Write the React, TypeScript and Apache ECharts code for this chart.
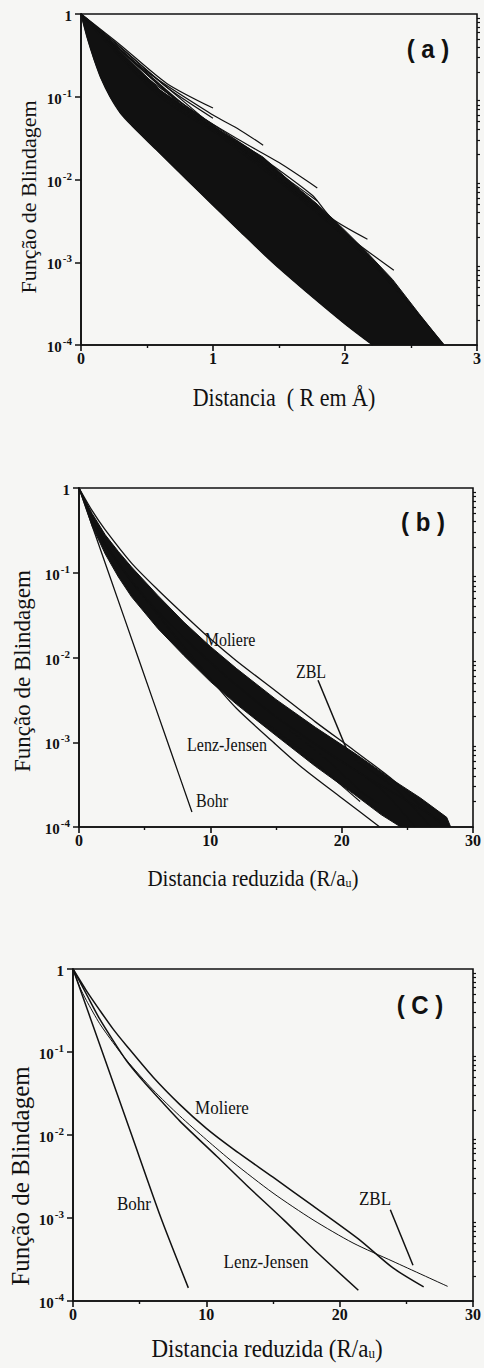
import React, { useEffect, useRef } from "react";
import * as echarts from "echarts";

const W = 484;
const H = 1368;
const INK = "#111111";
const SERIF = "Liberation Serif";
const SANS = "Liberation Sans";

// ---------- Panel (a): screening functions vs distance (Å) ----------
const xTicksA = [0, 1, 2, 3];
const bandLowerA: number[][] = [
  [0, 1], [0.05, 0.5], [0.1, 0.28], [0.15, 0.17], [0.22, 0.1], [0.3, 0.063], [0.39, 0.044],
  [0.57, 0.023], [0.8, 0.01], [1.0, 0.0049], [1.2, 0.0024], [1.45, 0.001], [1.7, 0.00045],
  [2.0, 0.00018], [2.21, 0.0001],
];
const bandUpperA: number[][] = [
  [0, 1], [0.3, 0.355], [0.6, 0.12], [1.0, 0.044], [1.38, 0.0186], [1.6, 0.009], [1.78, 0.0052],
  [1.98, 0.0026], [2.17, 0.0013], [2.36, 0.00062], [2.56, 0.00024], [2.75, 0.0001],
];
const fringeA: number[][][] = [
  [[0, 1], [0.3, 0.42], [0.65, 0.145], [1.0, 0.073]],
  [[0, 1], [0.3, 0.4], [0.65, 0.13], [1.0, 0.055]],
  [[0, 1], [0.5, 0.2], [1.0, 0.06], [1.2, 0.04], [1.38, 0.026]],
  [[0, 1], [0.5, 0.17], [1.0, 0.045], [1.38, 0.015]],
  [[0, 1], [0.6, 0.12], [1.2, 0.03], [1.5, 0.016], [1.79, 0.0079]],
  [[0, 1], [0.6, 0.11], [1.2, 0.026], [1.79, 0.0055]],
  [[0, 1], [0.6, 0.1], [1.2, 0.024], [1.79, 0.0045]],
  [[0, 1], [0.7, 0.1], [1.3, 0.022], [1.75, 0.0065], [1.9, 0.0034], [2.17, 0.0019]],
  [[0, 1], [0.8, 0.075], [1.5, 0.011], [2.0, 0.0022], [2.37, 0.0008]],
  [[0, 1], [0.8, 0.07], [1.6, 0.007], [2.2, 0.001], [2.56, 0.00022]],
  [[0, 1], [0.9, 0.06], [1.8, 0.004], [2.4, 0.00045], [2.75, 0.0001]],
];

// ---------- Panel (b): screening functions vs reduced distance ----------
const xTicksB = [0, 10, 20, 30];
const bandUpperB: number[][] = [
  [0, 1], [1, 0.5], [2, 0.28], [3, 0.178], [4, 0.117], [6, 0.054], [8, 0.026], [10, 0.0135],
  [12, 0.0074], [15, 0.0032], [18, 0.0015], [21, 0.00074], [24, 0.00035], [26, 0.00022],
  [28, 0.00013], [28.3, 0.0001],
];
const bandLowerB: number[][] = [
  [0, 1], [1, 0.355], [2, 0.166], [3, 0.089], [4, 0.052], [6, 0.022], [8, 0.0105], [10, 0.0052],
  [12, 0.0028], [15, 0.0012], [18, 0.00052], [21, 0.00024], [23, 0.00014], [24.5, 0.0001],
];
const fringeB: number[][][] = [
  [[14, 0.0018], [17, 0.0008], [19.5, 0.00036], [21.4, 0.0002]],
  [[16, 0.0014], [19, 0.0006], [21.5, 0.00026], [22.8, 0.00019]],
  [[20, 0.0006], [23, 0.00028], [25.6, 0.0001]],
  [[21, 0.00062], [24, 0.00029], [26.8, 0.0001]],
];
const bohrB: number[][] = [[0, 1], [2.25, 0.1], [4.5, 0.01], [6.75, 0.001], [8.6, 0.00015]];
const lenzB: number[][] = [
  [0, 1], [1, 0.45], [2, 0.22], [4, 0.079], [6, 0.032], [8, 0.0132], [10, 0.0056], [12, 0.0025],
  [14.8, 0.001], [17, 0.0005], [20, 0.00022], [22.9, 0.0001],
];
const moliereB: number[][] = [
  [0, 1], [1, 0.54], [2, 0.32], [4, 0.13], [6, 0.063], [8, 0.032], [10, 0.0166], [12, 0.0091],
  [15, 0.004], [18, 0.00174], [21, 0.00079], [24, 0.00035], [26.5, 0.00015], [27.5, 0.000112],
];
const zblB: number[][] = [
  [0, 1], [1, 0.42], [2, 0.22], [4, 0.08], [6, 0.035], [8, 0.017], [10, 0.0088], [12, 0.0047],
  [15, 0.002], [18, 0.00095], [21, 0.00047], [24, 0.00025], [27.5, 0.00012],
];

// ---------- Panel (c): the four model functions ----------
const xTicksC = [0, 10, 20, 30];
const bohrC: number[][] = [[0, 1], [2.2, 0.1], [4.4, 0.01], [6.6, 0.001], [8.65, 0.000144]];
const lenzC: number[][] = [
  [0, 1], [1, 0.5], [2, 0.25], [3, 0.138], [4, 0.079], [5, 0.05], [6, 0.033], [8, 0.0148],
  [10.8, 0.0055], [13, 0.0025], [15.8, 0.00095], [18.5, 0.00036], [21.4, 0.000135],
];
const zblC: number[][] = [
  [0, 1], [0.5, 0.61], [1, 0.42], [2, 0.22], [3, 0.13], [4, 0.08], [6, 0.035], [8, 0.017],
  [10, 0.0088], [12, 0.0047], [15, 0.002], [18, 0.00095], [21, 0.0005], [24, 0.0003], [28.1, 0.00015],
];
const moliereC: number[][] = [
  [0, 1], [1, 0.55], [2, 0.32], [3, 0.19], [4, 0.12], [6, 0.05], [8, 0.0234], [10, 0.012],
  [12, 0.0068], [15, 0.0031], [18, 0.0014], [21.4, 0.00056], [24, 0.00025], [26.3, 0.000148],
];

const yMinor: number[] = [];
for (let e = -4; e < 0; e++) for (let m = 2; m <= 9; m++) yMinor.push(+(m * Math.pow(10, e)).toPrecision(3));

// ---------- layout ----------
const grids = [
  { left: 81, top: 14, width: 397, height: 331 },
  { left: 79, top: 488, width: 395, height: 339 },
  { left: 73, top: 969, width: 400, height: 332 },
];

function yLabel(v: number) {
  const e = Math.round(Math.log10(v));
  if (e === 0) return "{b|1}";
  return "{b|10}{s|" + e + "}";
}

function makeX(gi: number, max: number, interval: number) {
  return {
    type: "value", gridIndex: gi, min: 0, max, interval,
    axisLine: { show: true, lineStyle: { color: INK, width: 1.6 } },
    axisTick: { show: true, length: 6, lineStyle: { color: INK, width: 1.6 } },
    minorTick: { show: true, splitNumber: 2, length: 3, lineStyle: { color: INK, width: 1.4 } },
    splitLine: { show: false },
    axisLabel: { color: INK, fontFamily: SERIF, fontSize: 16, fontWeight: "bold", margin: 5 },
  };
}
function makeYMain(gi: number) {
  return {
    type: "log", gridIndex: gi, min: 1e-4, max: 1, logBase: 10,
    axisLine: { show: true, lineStyle: { color: INK, width: 1.6 } },
    axisTick: { show: true, length: 6, lineStyle: { color: INK, width: 1.5 } },
    splitLine: { show: false },
    axisLabel: {
      formatter: yLabel, margin: 9, fontFamily: SERIF, fontSize: 15, fontWeight: "bold", color: INK,
      rich: {
        b: { fontFamily: SERIF, fontSize: 15, color: INK, fontWeight: "bold", lineHeight: 19, verticalAlign: "bottom" },
        s: { fontFamily: SERIF, fontSize: 11, color: INK, fontWeight: "bold", lineHeight: 12, verticalAlign: "top", padding: [0, 0, 0, 1] },
      },
    },
  };
}
function makeYMinor(gi: number) {
  return {
    type: "log", gridIndex: gi, min: 1e-4, max: 1, logBase: 10,
    axisLine: { show: false },
    axisTick: { show: true, length: 3, customValues: yMinor, lineStyle: { color: INK, width: 1.2 } },
    splitLine: { show: false },
    axisLabel: { show: false },
  };
}

function line(xi: number, data: number[][], width = 1.3, smooth: number = 0.25) {
  return {
    type: "line", xAxisIndex: xi, yAxisIndex: xi * 2, data, showSymbol: false, smooth,
    lineStyle: { color: INK, width }, silent: true, z: 3,
  };
}
function band(xi: number, upper: number[][], lower: number[][]) {
  const poly = upper.concat(lower.slice().reverse());
  return {
    type: "custom", xAxisIndex: xi, yAxisIndex: xi * 2, data: poly, clip: true, silent: true, z: 2,
    renderItem: (params: any, api: any) => {
      if (params.dataIndex !== 0) return null;
      const pts = poly.map((p) => api.coord(p));
      return { type: "polygon", shape: { points: pts }, style: { fill: INK, stroke: INK, lineWidth: 1 } };
    },
  };
}
function arrow(xi: number, from: number[], to: number[]) {
  return {
    type: "line", xAxisIndex: xi, yAxisIndex: xi * 2, data: [], silent: true,
    markLine: {
      silent: true, animation: false, symbol: ["none", "arrow"], symbolSize: [0, 9],
      label: { show: false },
      lineStyle: { color: INK, width: 1.5, type: "solid" },
      data: [[{ coord: from }, { coord: to }]],
    },
  };
}

function txt(x: number, y: number, text: string, size: number, opts: any = {}) {
  return {
    type: "text", x, y, rotation: opts.rotation || 0, scaleX: opts.scaleX || 1, scaleY: opts.scaleY || 1, z: 10,
    style: {
      text, fill: INK, fontSize: size, fontFamily: opts.font || SERIF, fontWeight: opts.weight || "normal",
      align: "center", verticalAlign: "middle", rich: opts.rich,
    },
  };
}

function buildOption() {
  const series: any[] = [];
  // (a)
  series.push(band(0, bandUpperA, bandLowerA));
  fringeA.forEach((f) => series.push(line(0, f, 1.2)));
  series.push(line(0, bandLowerA, 1.4, 0.3));
  // (b)
  series.push(band(1, bandUpperB, bandLowerB));
  fringeB.forEach((f) => series.push(line(1, f, 1.1)));
  series.push(line(1, bohrB, 1.3));
  series.push(line(1, lenzB, 1.3));
  series.push(line(1, moliereB, 1.3));
  series.push(line(1, zblB, 1.3));
  series.push(arrow(1, [18.2, 0.0054], [20.4, 0.00081]));
  // (c)
  series.push(line(2, bohrC, 1.5));
  series.push(line(2, lenzC, 1.5));
  series.push(line(2, zblC, 1.0));
  series.push(line(2, moliereC, 1.5));
  series.push(arrow(2, [23.8, 0.00126], [25.5, 0.00027]));

  const xRich = {
    t: { fontFamily: SERIF, fontSize: 21, color: INK },
    u: { fontFamily: SERIF, fontSize: 12, color: INK, verticalAlign: "bottom", lineHeight: 14 },
  };
  const xRichC = {
    t: { fontFamily: SERIF, fontSize: 23, color: INK },
    u: { fontFamily: SERIF, fontSize: 13, color: INK, verticalAlign: "bottom", lineHeight: 14 },
  };
  const xt = "{t|Distancia reduzida (R/a}{u|u}{t|)}";
  const sy = { scaleY: 1.12 };

  const graphic: any[] = [
    // panel letters
    txt(428, 49, "( a )", 24, { font: SANS, weight: "bold", scaleY: 1.1 }),
    txt(423, 522, "( b )", 24, { font: SANS, weight: "bold", scaleY: 1.1 }),
    txt(420, 1005, "( C )", 24, { font: SANS, weight: "bold", scaleY: 1.1 }),
    // y titles
    txt(28, 197, "Função de Blindagem", 22, { rotation: Math.PI / 2 }),
    txt(22, 671, "Função de Blindagem", 23, { rotation: Math.PI / 2 }),
    txt(20, 1176, "Função de Blindagem", 25, { rotation: Math.PI / 2 }),
    // x titles
    txt(284, 398, "Distancia  ( R em Å)", 22, sy),
    txt(253, 878, xt, 21, { rich: xRich, ...sy }),
    txt(267, 1348, xt, 23, { rich: xRichC, ...sy }),
    // annotations (b)
    txt(230, 640, "Moliere", 16, sy),
    txt(311, 672, "ZBL", 16, sy),
    txt(227, 745, "Lenz-Jensen", 16, sy),
    txt(212, 801, "Bohr", 16, sy),
    // annotations (c)
    txt(222, 1108, "Moliere", 17, sy),
    txt(375, 1199, "ZBL", 17, sy),
    txt(266, 1262, "Lenz-Jensen", 17, sy),
    txt(134, 1204, "Bohr", 17, sy),
  ];

  return {
    animation: false,
    backgroundColor: "#f6f6f4",
    textStyle: { fontFamily: SERIF },
    grid: grids.map((g) => ({ ...g, show: true, borderColor: INK, borderWidth: 1.6, backgroundColor: "transparent" })),
    xAxis: [makeX(0, 3, 1), makeX(1, 30, 10), makeX(2, 30, 10)],
    yAxis: [makeYMain(0), makeYMinor(0), makeYMain(1), makeYMinor(1), makeYMain(2), makeYMinor(2)],
    series,
    graphic,
  };
}

export default function App() {
  const ref = useRef<HTMLDivElement>(null);
  useEffect(() => {
    document.body.style.margin = "0";
    const chart = echarts.init(ref.current!, null, { renderer: "svg", width: W, height: H });
    chart.setOption(buildOption() as any);
    return () => chart.dispose();
  }, []);
  return <div ref={ref} style={{ width: W, height: H }} />;
}
